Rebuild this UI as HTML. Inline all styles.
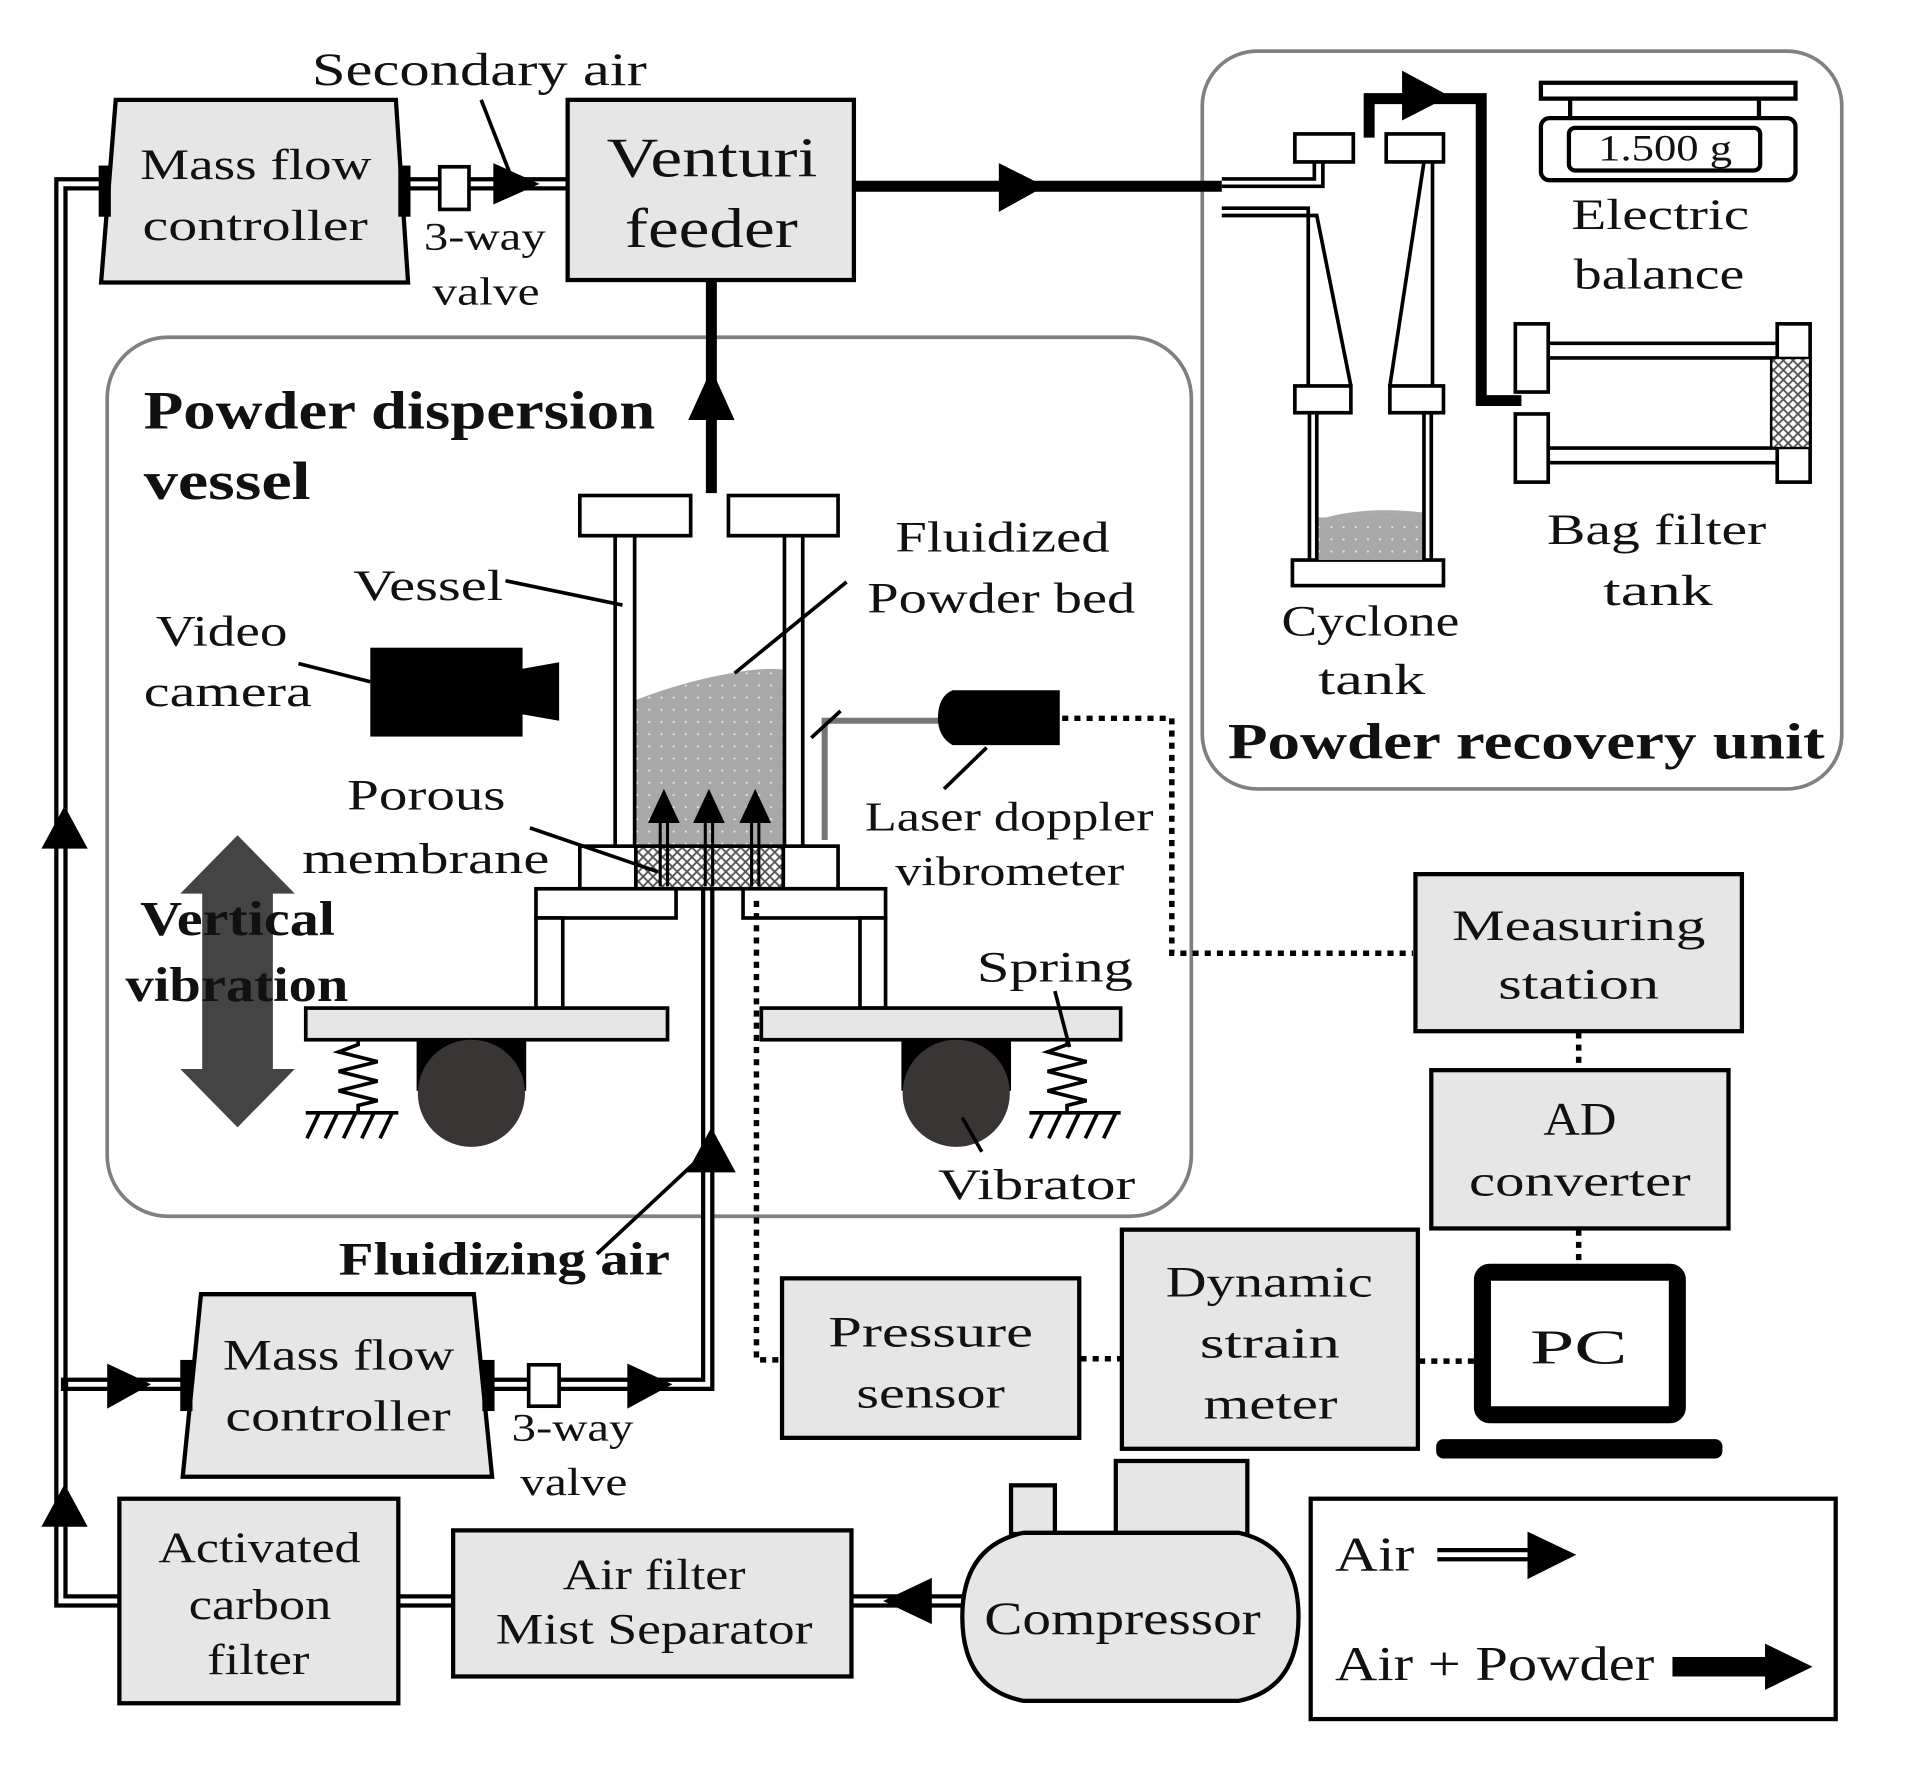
<!DOCTYPE html>
<html><head><meta charset="utf-8"><style>
html,body{margin:0;padding:0;background:#fff;}
svg{display:block;}
text{font-family:"Liberation Serif",serif;fill:#111;}
.b{font-weight:bold;}
</style></head><body>
<svg width="1910" height="1769" viewBox="0 0 1568 1453" preserveAspectRatio="none" xmlns="http://www.w3.org/2000/svg">
<defs>
<pattern id="hatch" width="8" height="8" patternUnits="userSpaceOnUse">
<rect width="8" height="8" fill="#fff"/>
<path d="M0 0L8 8M8 0L0 8" stroke="#555" stroke-width="1.5"/>
</pattern>
<pattern id="dots" width="10" height="10" patternUnits="userSpaceOnUse">
<rect width="10" height="10" fill="#a8a8a8"/>
<circle cx="3" cy="3" r="0.9" fill="#e8e8e8"/>
</pattern>
</defs>

<!-- containers -->
<rect x="88" y="277" width="890" height="722" rx="50" fill="none" stroke="#808080" stroke-width="3"/>
<rect x="987" y="42" width="525" height="606" rx="45" fill="none" stroke="#808080" stroke-width="3"/>

<!-- double air pipes (black wide + white narrow) -->
<g fill="none" stroke-linejoin="miter">
<path d="M88 151 H50 V1315 H98" stroke="#000" stroke-width="11"/>
<path d="M88 151 H50 V1315 H98" stroke="#fff" stroke-width="4"/>
<path d="M50 1137 H150" stroke="#000" stroke-width="11"/>
<path d="M56 1137 H150" stroke="#fff" stroke-width="4"/>
<path d="M335 151 H466" stroke="#000" stroke-width="11"/>
<path d="M335 151 H466" stroke="#fff" stroke-width="4"/>
<path d="M402 1137 H581 V730" stroke="#000" stroke-width="11"/>
<path d="M402 1137 H581 V730" stroke="#fff" stroke-width="4"/>
<path d="M327 1315 H372 M700 1315 H790" stroke="#000" stroke-width="11"/>
<path d="M327 1315 H372 M700 1315 H790" stroke="#fff" stroke-width="4"/>
</g>
<!-- air arrowheads -->
<g fill="#000">
<polygon points="34,697 72,697 53,662"/>
<polygon points="34,1254 72,1254 53,1219"/>
<polygon points="88,1120 88,1157 124,1137"/>
<polygon points="515,1120 515,1157 552,1137"/>
<polygon points="405,134 405,168 443,151"/>
<polygon points="564,963 604,963 584,926"/>
<polygon points="765,1296 765,1334 725,1315"/>
</g>
<!-- valves -->
<rect x="361" y="137" width="24" height="35" fill="#fff" stroke="#000" stroke-width="3"/>
<rect x="434" y="1121" width="25" height="34" fill="#fff" stroke="#000" stroke-width="3"/>

<!-- thick powder lines -->
<g stroke="#000" stroke-width="9" fill="none">
<path d="M701 153 H1003"/>
<path d="M584 230 V405"/>
<path d="M1124 113 V81 H1216 V329 H1249"/>
</g>
<g fill="#000">
<polygon points="820,134 820,174 858,153"/>
<polygon points="565,345 603,345 584,303"/>
<polygon points="1151,58 1151,99 1190,79"/>
</g>
<line x1="395" y1="82" x2="420" y2="146" stroke="#000" stroke-width="3"/>

<!-- MFC top -->
<polygon points="95,82 325,82 335,232 83,232" fill="#e6e6e6" stroke="#000" stroke-width="3.5"/>
<rect x="81" y="136" width="10" height="42" fill="#000"/>
<rect x="327" y="136" width="10" height="42" fill="#000"/>
<!-- Venturi -->
<rect x="466" y="82" width="235" height="148" fill="#e6e6e6" stroke="#000" stroke-width="3.5"/>

<!-- Vessel -->
<g stroke="#000" stroke-width="3" fill="#fff">
<rect x="476" y="407" width="91" height="33"/>
<rect x="598" y="407" width="90" height="33"/>
<rect x="476" y="695" width="46" height="35"/>
<rect x="643" y="695" width="45" height="35"/>
</g>
<path d="M522 575 Q560 560 600 553 Q625 548 643 550 V695 H522 Z" fill="url(#dots)"/>
<rect x="522" y="695" width="121" height="35" fill="url(#hatch)" stroke="#000" stroke-width="3"/>
<g stroke="#000" stroke-width="3" fill="none">
<path d="M505 440 V695 M521 440 V695 M644 440 V695 M659 440 V695"/>
</g>
<!-- internal arrows -->
<g stroke="#000" stroke-width="2.5">
<path d="M542 728 V672 M548 728 V672 M579 728 V672 M585 728 V672 M617 728 V672 M623 728 V672"/>
</g>
<g fill="#000">
<polygon points="532,676 558,676 545,648"/>
<polygon points="569,676 595,676 582,648"/>
<polygon points="607,676 633,676 620,648"/>
</g>
<!-- base -->
<g stroke="#000" stroke-width="3" fill="#fff">
<rect x="440" y="730" width="115" height="24"/>
<rect x="610" y="730" width="117" height="24"/>
<rect x="440" y="754" width="22" height="74"/>
<rect x="706" y="754" width="21" height="74"/>
</g>
<g stroke="#000" stroke-width="3" fill="#e6e6e6">
<rect x="251" y="828" width="297" height="26"/>
<rect x="625" y="828" width="295" height="26"/>
</g>
<!-- vibrators -->
<rect x="342" y="854" width="90" height="42" fill="#000"/>
<circle cx="387" cy="898" r="44" fill="#3a3535"/>
<rect x="740" y="854" width="90" height="42" fill="#000"/>
<circle cx="785" cy="898" r="44" fill="#3a3535"/>
<!-- springs -->
<g stroke="#000" stroke-width="3" fill="none">
<path d="M294 854 V858 L278 864 L310 872 L278 880 L310 888 L278 896 L310 904 L294 908 V913"/>
<path d="M251 914 H327 M262 914 L252 935 M277 914 L267 935 M292 914 L282 935 M307 914 L297 935 M322 914 L312 935"/>
<path d="M876 854 V858 L860 864 L892 872 L860 880 L892 888 L860 896 L892 904 L876 908 V913"/>
<path d="M845 914 H920 M856 914 L846 935 M871 914 L861 935 M886 914 L876 935 M901 914 L891 935 M916 914 L906 935"/>
</g>
<!-- vertical vibration arrow -->
<polygon points="195,686 242,734 224,734 224,878 242,878 195,926 148,878 166,878 166,734 148,734" fill="#444"/>
<!-- camera -->
<rect x="304" y="532" width="125" height="73" fill="#000"/>
<polygon points="425,550 459,544 459,592 425,586" fill="#000"/>
<!-- laser -->
<path d="M677 690 V592 H772" stroke="#777" stroke-width="5" fill="none"/>
<line x1="666" y1="606" x2="690" y2="584" stroke="#000" stroke-width="3"/>
<path d="M782 567 H870 V612 H782 Q770 605 770 590 Q770 572 782 567Z" fill="#000"/>

<!-- leaders -->
<g stroke="#000" stroke-width="3">
<line x1="415" y1="477" x2="511" y2="497"/>
<line x1="245" y1="545" x2="304" y2="560"/>
<line x1="695" y1="478" x2="603" y2="553"/>
<line x1="435" y1="680" x2="540" y2="716"/>
<line x1="810" y1="614" x2="775" y2="648"/>
<line x1="866" y1="814" x2="878" y2="860"/>
<line x1="790" y1="918" x2="806" y2="946"/>
<line x1="490" y1="1030" x2="580" y2="946"/>
</g>

<!-- dotted signal lines -->
<g stroke="#000" stroke-width="4.5" stroke-dasharray="5 5" fill="none">
<path d="M872 590 H962 V783 H1160"/>
<path d="M621 740 V1117 H640"/>
<path d="M1296 848 V880 M1296 1010 V1040"/>
<path d="M887 1116 H921 M1165 1118 H1211"/>
</g>

<!-- recovery unit -->
<g stroke="#000" stroke-width="3" fill="#fff">
<rect x="1063" y="110" width="48" height="23"/>
<rect x="1138" y="110" width="47" height="23"/>
<rect x="1063" y="317" width="46" height="22"/>
<rect x="1141" y="317" width="44" height="22"/>
<rect x="1061" y="460" width="124" height="21"/>
</g>
<rect x="1082" y="425" width="87" height="35" fill="url(#dots)"/>
<path d="M1082 430 Q1120 418 1169 424" stroke="#aaa" stroke-width="6" fill="none"/>
<g stroke="#000" stroke-width="3" fill="none">
<path d="M1003 147 H1079 V133 M1003 153 H1086 V133"/>
<path d="M1003 171 H1074 V317 M1003 177 H1081 L1109 317"/>
<path d="M1169 133 L1141 317 M1176 133 V317"/>
<path d="M1075 339 V460 M1081 339 V460 M1169 339 V460 M1175 339 V460"/>
</g>
<!-- bag filter -->
<g stroke="#000" stroke-width="3" fill="#fff">
<rect x="1244" y="266" width="27" height="56"/>
<rect x="1244" y="340" width="27" height="56"/>
<rect x="1459" y="266" width="27" height="130"/>
<path d="M1271 282 H1459 M1271 294 H1459 M1271 368 H1459 M1271 380 H1459" fill="none"/>
</g>
<rect x="1454" y="294" width="32" height="74" fill="url(#hatch)" stroke="#000" stroke-width="2"/>
<!-- balance -->
<g stroke="#000" stroke-width="3.5" fill="#fff">
<rect x="1265" y="68" width="209" height="13"/>
<path d="M1289 81 V97 M1444 81 V97"/>
<rect x="1265" y="97" width="209" height="51" rx="7"/>
<rect x="1288" y="105" width="157" height="35" rx="5"/>
</g>

<!-- lower boxes -->
<polygon points="165,1063 389,1063 404,1213 150,1213" fill="#e6e6e6" stroke="#000" stroke-width="3.5"/>
<rect x="148" y="1117" width="10" height="42" fill="#000"/>
<rect x="396" y="1117" width="10" height="42" fill="#000"/>
<g fill="#e6e6e6" stroke="#000" stroke-width="3.5">
<rect x="98" y="1231" width="229" height="168"/>
<rect x="372" y="1257" width="327" height="120"/>
<rect x="642" y="1050" width="244" height="131"/>
<rect x="921" y="1010" width="243" height="180"/>
<rect x="1162" y="718" width="268" height="129"/>
<rect x="1175" y="879" width="244" height="130"/>
<rect x="830" y="1220" width="36" height="40"/>
<rect x="916" y="1200" width="108" height="60"/>
<path d="M840 1259 H1017 Q1066 1270 1066 1328 Q1066 1387 1017 1397 H840 Q790 1387 790 1328 Q790 1270 840 1259Z"/>
</g>
<!-- PC -->
<rect x="1217" y="1045" width="160" height="117" rx="6" fill="#fff" stroke="#000" stroke-width="14"/>
<rect x="1179" y="1182" width="235" height="16" rx="6" fill="#000"/>
<!-- legend -->
<rect x="1076" y="1231" width="431" height="181" fill="#fff" stroke="#000" stroke-width="3.5"/>
<path d="M1180 1277 H1258" stroke="#000" stroke-width="11"/>
<path d="M1180 1277 H1258" stroke="#fff" stroke-width="4"/>
<polygon points="1254,1258 1254,1297 1294,1277" fill="#000"/>
<rect x="1373" y="1361" width="78" height="16" fill="#000"/>
<polygon points="1449,1350 1449,1388 1488,1369" fill="#000"/>

<!-- texts -->
<g font-size="36">
<text x="256" y="70" textLength="275" lengthAdjust="spacingAndGlyphs" font-size="38">Secondary air</text>
<text x="115" y="147" textLength="190" lengthAdjust="spacingAndGlyphs">Mass flow</text>
<text x="117" y="197" textLength="185" lengthAdjust="spacingAndGlyphs">controller</text>
<text x="348" y="205" textLength="100" lengthAdjust="spacingAndGlyphs" font-size="32">3-way</text>
<text x="355" y="250" textLength="88" lengthAdjust="spacingAndGlyphs" font-size="32">valve</text>
<text x="498" y="145" textLength="173" lengthAdjust="spacingAndGlyphs" font-size="46">Venturi</text>
<text x="513" y="203" textLength="142" lengthAdjust="spacingAndGlyphs" font-size="46">feeder</text>
<text x="118" y="352" textLength="420" lengthAdjust="spacingAndGlyphs" font-size="44" class="b">Powder dispersion</text>
<text x="118" y="410" textLength="137" lengthAdjust="spacingAndGlyphs" font-size="44" class="b">vessel</text>
<text x="290" y="493" textLength="123" lengthAdjust="spacingAndGlyphs">Vessel</text>
<text x="128" y="530" textLength="108" lengthAdjust="spacingAndGlyphs">Video</text>
<text x="118" y="580" textLength="138" lengthAdjust="spacingAndGlyphs">camera</text>
<text x="735" y="453" textLength="176" lengthAdjust="spacingAndGlyphs">Fluidized</text>
<text x="712" y="503" textLength="220" lengthAdjust="spacingAndGlyphs">Powder bed</text>
<text x="285" y="665" textLength="130" lengthAdjust="spacingAndGlyphs">Porous</text>
<text x="248" y="717" textLength="203" lengthAdjust="spacingAndGlyphs">membrane</text>
<text x="710" y="682" textLength="237" lengthAdjust="spacingAndGlyphs" font-size="34">Laser doppler</text>
<text x="735" y="727" textLength="188" lengthAdjust="spacingAndGlyphs" font-size="34">vibrometer</text>
<text x="115" y="768" textLength="160" lengthAdjust="spacingAndGlyphs" font-size="40" class="b">Vertical</text>
<text x="103" y="822" textLength="183" lengthAdjust="spacingAndGlyphs" font-size="40" class="b">vibration</text>
<text x="802" y="806" textLength="128" lengthAdjust="spacingAndGlyphs">Spring</text>
<text x="770" y="985" textLength="162" lengthAdjust="spacingAndGlyphs">Vibrator</text>
<text x="278" y="1047" textLength="272" lengthAdjust="spacingAndGlyphs" font-size="38" class="b">Fluidizing air</text>
<text x="183" y="1125" textLength="190" lengthAdjust="spacingAndGlyphs">Mass flow</text>
<text x="185" y="1175" textLength="185" lengthAdjust="spacingAndGlyphs">controller</text>
<text x="420" y="1183" textLength="100" lengthAdjust="spacingAndGlyphs" font-size="32">3-way</text>
<text x="427" y="1228" textLength="88" lengthAdjust="spacingAndGlyphs" font-size="32">valve</text>
<text x="130" y="1283" textLength="166" lengthAdjust="spacingAndGlyphs">Activated</text>
<text x="155" y="1330" textLength="117" lengthAdjust="spacingAndGlyphs">carbon</text>
<text x="170" y="1375" textLength="84" lengthAdjust="spacingAndGlyphs">filter</text>
<text x="462" y="1305" textLength="150" lengthAdjust="spacingAndGlyphs">Air filter</text>
<text x="407" y="1350" textLength="260" lengthAdjust="spacingAndGlyphs">Mist Separator</text>
<text x="808" y="1342" textLength="227" lengthAdjust="spacingAndGlyphs" font-size="38">Compressor</text>
<text x="680" y="1106" textLength="168" lengthAdjust="spacingAndGlyphs">Pressure</text>
<text x="703" y="1156" textLength="122" lengthAdjust="spacingAndGlyphs">sensor</text>
<text x="957" y="1065" textLength="170" lengthAdjust="spacingAndGlyphs">Dynamic</text>
<text x="985" y="1115" textLength="115" lengthAdjust="spacingAndGlyphs">strain</text>
<text x="988" y="1165" textLength="110" lengthAdjust="spacingAndGlyphs">meter</text>
<text x="1256" y="1120" textLength="80" lengthAdjust="spacingAndGlyphs" font-size="40">PC</text>
<text x="1192" y="772" textLength="208" lengthAdjust="spacingAndGlyphs">Measuring</text>
<text x="1230" y="820" textLength="132" lengthAdjust="spacingAndGlyphs">station</text>
<text x="1267" y="932" textLength="60" lengthAdjust="spacingAndGlyphs" font-size="38">AD</text>
<text x="1206" y="982" textLength="182" lengthAdjust="spacingAndGlyphs">converter</text>
<text x="1096" y="1290" textLength="65" lengthAdjust="spacingAndGlyphs" font-size="40">Air</text>
<text x="1096" y="1380" textLength="262" lengthAdjust="spacingAndGlyphs" font-size="40">Air + Powder</text>
<text x="1312" y="132" textLength="110" lengthAdjust="spacingAndGlyphs" font-size="30">1.500 g</text>
<text x="1290" y="188" textLength="146" lengthAdjust="spacingAndGlyphs">Electric</text>
<text x="1292" y="237" textLength="140" lengthAdjust="spacingAndGlyphs">balance</text>
<text x="1270" y="447" textLength="180" lengthAdjust="spacingAndGlyphs">Bag filter</text>
<text x="1316" y="497" textLength="90" lengthAdjust="spacingAndGlyphs">tank</text>
<text x="1052" y="522" textLength="146" lengthAdjust="spacingAndGlyphs">Cyclone</text>
<text x="1082" y="570" textLength="88" lengthAdjust="spacingAndGlyphs">tank</text>
<text x="1008" y="623" textLength="490" lengthAdjust="spacingAndGlyphs" font-size="42" class="b">Powder recovery unit</text>
</g>
</svg>
</body></html>
